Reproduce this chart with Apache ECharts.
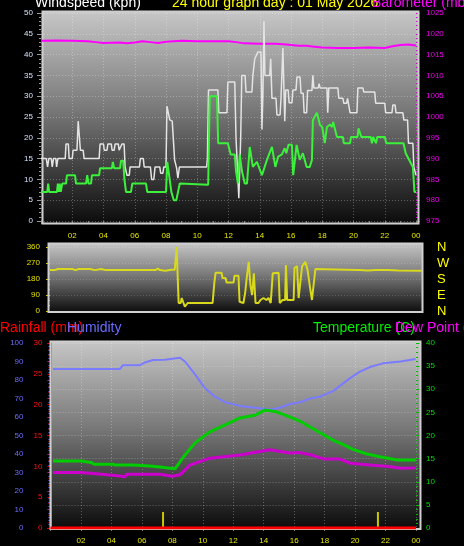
<!DOCTYPE html>
<html><head><meta charset="utf-8">
<script src="https://cdn.jsdelivr.net/npm/echarts/dist/echarts.min.js"></script>
<style>html,body{margin:0;padding:0;background:#000;overflow:hidden}#c{width:464px;height:546px}</style>
</head><body><div id="c"></div><script>
// ---- data (hour of day, value) ----
const hourTicks = ['02','04','06','08','10','12','14','16','18','20','22','00'];
const gust = [[0,15],[0.34,15],[0.42,13],[0.5,15],[0.66,15],[0.72,13],[0.8,15],[0.95,15],[1.0,13],[1.08,15],[1.55,15],[1.6,18.5],[1.75,18.5],[1.8,15],[2.0,15],[2.05,17],[2.3,17],[2.38,24],[2.46,24],[2.52,17],[2.7,17],[2.76,15],[3.72,15],[3.78,18.5],[4.0,18.5],[4.05,17],[4.22,17],[4.28,18.5],[4.5,18.5],[4.55,17],[4.68,17],[4.74,18.5],[4.95,18.5],[5.0,17],[5.12,17],[5.18,18.5],[5.32,18.5],[5.38,13],[5.5,11],[5.65,11],[5.7,13],[6.3,13],[6.36,15],[6.55,15],[6.6,13],[7.0,13],[7.08,10],[7.22,10],[7.3,13],[7.6,13],[7.66,11.5],[7.8,11.5],[7.86,13],[8.0,13],[8.06,27.6],[8.18,27.6],[8.24,24.3],[8.4,24],[8.55,14.7],[8.68,12.7],[8.76,10.3],[8.86,13],[10.6,13],[10.65,15],[10.72,31.5],[11.32,31.5],[11.38,26],[11.9,26],[11.96,33.4],[12.4,33.4],[12.48,20],[12.66,5.5],[12.78,20],[12.85,35],[13.06,35],[13.12,31],[13.5,31],[13.56,35],[13.68,39],[13.88,40.6],[14.08,40.6],[14.14,22],[14.2,30],[14.27,48],[14.33,35],[14.64,35],[14.7,39],[14.78,29.5],[15.04,29.5],[15.1,25.5],[15.3,25.5],[15.36,29.5],[15.43,29.5],[15.48,41.6],[15.55,41.6],[15.6,24],[15.66,31.5],[15.82,31.5],[15.88,28.4],[16.06,28.4],[16.12,31.5],[16.32,31.5],[16.38,34.6],[16.58,34.6],[16.64,30.7],[16.78,30.7],[16.84,26],[17.0,26],[17.06,31.4],[17.34,31.4],[17.4,35],[17.46,32],[17.74,32],[17.8,33],[17.86,32],[18.3,32],[18.35,26],[18.42,32],[19.0,32],[19.06,29.5],[19.32,29.5],[19.38,28.3],[19.56,28.3],[19.62,29.5],[19.72,29.5],[19.78,26],[20.22,26],[20.28,32],[20.6,32],[20.66,31],[21.36,31],[21.42,28.3],[22.0,28.3],[22.06,26],[22.46,26],[22.52,27.9],[22.66,27.9],[22.72,26],[23.16,26],[23.22,24.3],[23.46,24.3],[23.52,18.7],[23.8,18.7],[23.86,13],[24,11]];
const avgWind = [[0,7],[0.4,7],[0.46,9],[0.52,7],[1.02,7],[1.08,9],[1.14,7],[1.2,9],[1.26,7],[1.36,9],[1.6,9],[1.66,11],[2.18,11],[2.24,9],[2.88,9],[2.96,11],[3.04,9],[3.2,9],[3.26,11],[3.72,11],[3.78,12.7],[4.54,12.7],[4.6,14.2],[4.68,12.7],[5.06,12.7],[5.12,14.5],[5.26,14.5],[5.34,10],[5.44,7],[5.76,7],[5.84,9],[6.72,9],[6.8,7],[8.0,7],[8.08,14.2],[8.2,11],[8.34,7],[8.5,5],[8.66,5],[8.88,9],[9.0,8.7],[10.7,8.7],[10.8,30],[11.26,30],[11.34,18.7],[11.96,18.7],[12.14,16],[12.4,16],[12.48,12],[12.6,9],[12.72,16],[12.86,12],[13.04,9],[13.18,9],[13.36,17.8],[13.56,13],[13.82,14.2],[14.14,11],[14.46,14.7],[14.78,17.8],[15.0,13],[15.18,15.5],[15.42,16],[15.6,17.5],[15.7,16.3],[15.84,18.3],[16.06,18.3],[16.14,11],[16.36,18.3],[16.56,14.7],[16.76,16.3],[17.0,13],[17.2,13],[17.34,14.7],[17.4,24.3],[17.66,26],[17.86,23],[18.0,22.6],[18.16,18.7],[18.3,22.6],[18.5,23.2],[18.62,22.6],[18.7,23.8],[18.94,20.2],[19.32,20.2],[19.38,18.7],[19.78,18.7],[19.84,20.2],[20.26,20.2],[20.32,22.3],[20.5,20.2],[21.1,20.2],[21.18,18.7],[21.26,20.2],[21.36,20.2],[21.44,18.7],[21.52,20.2],[22.0,20.2],[22.1,18.7],[23.2,18.7],[23.34,16.3],[23.8,13],[23.9,7],[24,7]];
const barometer = [[0,1018.3],[1,1018.4],[2,1018.3],[3,1018.2],[3.5,1018],[4,1017.8],[5,1017.9],[5.5,1017.7],[6,1017.9],[6.5,1018.2],[7,1018],[7.5,1017.8],[8,1018.1],[9,1018.3],[10,1018.2],[11,1018.2],[12,1018.2],[12.5,1018],[13,1017.7],[14,1017.6],[15,1017.6],[15.5,1017.5],[16,1017.3],[16.5,1017.1],[17,1017.1],[17.5,1016.9],[18,1016.7],[19,1016.6],[20,1016.6],[21,1016.7],[22,1016.6],[22.5,1017],[23,1017.3],[23.5,1017.4],[24,1017.2]];
const windDir = [[0,230],[0.3,230],[0.5,236],[1.2,236],[1.3,228],[1.45,236],[1.65,230],[1.85,236],[2.6,236],[2.9,230],[3.3,236],[3.6,230],[5.5,230],[5.6,224],[5.75,230],[6.8,230],[6.95,238],[7.1,230],[7.45,226],[7.8,232],[8.05,232],[8.17,360],[8.24,355],[8.3,45],[8.43,45],[8.5,73],[8.62,73],[8.7,24],[8.8,24],[8.88,45],[10.49,45],[10.6,157],[10.68,215],[11.07,215],[11.13,185],[11.33,185],[11.39,160],[11.84,160],[11.9,198],[12.16,198],[12.23,52],[12.48,45],[12.6,109],[12.7,193],[12.82,277],[12.93,146],[13.04,90],[13.15,212],[13.26,45],[13.45,45],[13.58,62],[13.77,73],[13.96,62],[14.1,73],[14.24,45],[14.37,212],[14.75,215],[14.82,45],[15.0,62],[15.17,62],[15.22,259],[15.3,62],[15.72,62],[15.77,242],[15.94,253],[16.04,73],[16.26,250],[16.47,277],[16.62,230],[16.8,118],[16.9,62],[17.0,62],[17.12,236],[17.24,230],[19.8,230],[19.9,225],[20.0,230],[20.5,228],[21.0,230],[21.8,230],[21.9,226],[22.5,228],[24,226]];
const humidity = [[0.16,86],[4.56,86],[4.76,88],[5.88,88],[6.2,89.5],[6.73,90.8],[7.52,91],[8.5,92],[8.83,90],[9.49,83],[10.1,76],[10.8,71],[11.46,68],[12.44,66],[13.43,65],[14.41,64],[15.07,65],[15.73,67],[16.38,68],[17.04,70],[17.7,71],[18.55,74],[19.67,81],[20.32,84.5],[20.97,87],[21.83,89],[22.98,90],[23.97,91.3]];
const temperature = [[0.16,14.5],[2.07,14.5],[2.2,14.1],[2.72,14.1],[2.86,13.8],[4.1,13.8],[4.24,13.6],[5.42,13.6],[5.55,13.4],[6.53,13.4],[7.19,13.2],[8.17,12.8],[8.83,15.8],[9.49,18.4],[10.47,20.8],[11.46,22.3],[12.44,23.8],[13.43,24.4],[14.08,25.5],[14.74,25.2],[15.4,24.4],[16.38,23.1],[16.7,22.5],[17.7,20.6],[18.55,19],[19.2,18.1],[19.86,17],[20.78,16],[21.64,15.4],[22.76,14.7],[24,14.7]];
const dewPoint = [[0.16,12],[2.0,12],[2.1,11.7],[3.2,11.7],[3.3,11.3],[4.4,11.3],[4.5,11.1],[4.9,11.1],[5.0,11.6],[7.2,11.6],[8.0,11.2],[8.5,11.5],[9.15,13.6],[10.47,15.1],[12.44,15.8],[14.4,16.9],[15.7,16.2],[16.38,16.3],[17.0,15.9],[18.0,14.9],[19.0,14.9],[19.7,14],[21.0,13.6],[22.2,13.3],[23.0,12.9],[24,13]];
const rainfall = [[0,0],[24,0]];
const rainRate = [[7.39,2.6],[21.5,2.6]];
const compass = {0:'N',90:'E',180:'S',270:'W',360:'N'};

const chart = echarts.init(document.getElementById('c'), null, {renderer:'canvas'});
const bgGrad = () => new echarts.graphic.LinearGradient(0,0,0,1,[
  {offset:0,color:'#c6c6c6'},{offset:0.45,color:'#7a7a7a'},{offset:1,color:'#0a0a0a'}]);
const fmtHour = v => v === 0 ? '' : hourTicks[v/2 - 1];
const plain = v => String(v);
const dotted = {show:true, lineStyle:{color:'rgba(255,255,255,0.28)', type:[1,2], width:1}};
const FONT = 'Liberation Sans, Arial, sans-serif';

const xBase = (gi, labelShow, margin, split) => ({
  type:'value', gridIndex:gi, min:0, max:24, interval:2,
  axisLine:{show:false},
  axisTick:{show:labelShow, length:3, lineStyle:{color:'#777'}},
  minorTick:{show:labelShow, splitNumber:2, length:2, lineStyle:{color:'#777'}},
  axisLabel:{show:labelShow, formatter:fmtHour, color:'#e6e600', fontSize:8, fontFamily:FONT, margin:margin},
  splitLine: split ? dotted : {show:false}
});

const option = {
  backgroundColor:'#000',
  animation:false,
  grid:[
    {left:41, right:48, top:13, height:208},
    {left:50, right:42, top:247, height:64},
    {left:50.5, right:48, top:343, height:185}
  ],
  xAxis:[ xBase(0,true,11,true), xBase(1,false,0,false), xBase(2,true,9,true) ],
  yAxis:[
    {type:'value', gridIndex:0, min:0, max:50, interval:5,
     axisLine:{show:false}, axisTick:{show:true,length:4,lineStyle:{color:'#999'}},
     minorTick:{show:true,splitNumber:5,length:2,lineStyle:{color:'#999'}},
     axisLabel:{color:'#d4e2ff', fontSize:8, fontFamily:FONT, margin:8, formatter:plain}, splitLine:dotted},
    {type:'value', gridIndex:0, position:'right', min:975, max:1025, interval:5,
     axisLine:{show:false}, axisTick:{show:true,length:4,lineStyle:{color:'#d000d0'}},
     minorTick:{show:true,splitNumber:5,length:2,lineStyle:{color:'#d000d0'}},
     axisLabel:{color:'#ee00ee', fontSize:8, fontFamily:FONT, margin:10, formatter:plain}, splitLine:{show:false}},
    {type:'value', gridIndex:1, min:0, max:360, interval:90,
     axisLine:{show:false}, axisTick:{show:true,length:4,lineStyle:{color:'#c8c800'}},
     minorTick:{show:true,splitNumber:3,length:2,lineStyle:{color:'#c8c800'}},
     axisLabel:{color:'#e0e000', fontSize:8, fontFamily:FONT, margin:10, formatter:plain},
     splitLine:{show:true,lineStyle:{color:'rgba(255,255,255,0.18)',type:[1,2]}}},
    {type:'value', gridIndex:1, position:'right', min:0, max:360, interval:90,
     axisLine:{show:false}, axisTick:{show:false}, splitLine:{show:false},
     axisLabel:{color:'#ffff00', fontSize:13, fontFamily:FONT, margin:15, formatter:v=>compass[v]}},
    {type:'value', gridIndex:2, position:'left', offset:20, min:0, max:100, interval:10,
     axisLine:{show:true,lineStyle:{color:'#5a5aff',width:2}},
     axisTick:{show:true,length:3,lineStyle:{color:'#5a5aff'}},
     minorTick:{show:true,splitNumber:5,length:2,lineStyle:{color:'#5a5aff'}},
     axisLabel:{color:'#6b6bff', fontSize:8, fontFamily:FONT, margin:7, formatter:plain}, splitLine:{show:false}},
    {type:'value', gridIndex:2, position:'left', offset:0, min:0, max:30, interval:5,
     axisLine:{show:false}, axisTick:{show:true,length:3,lineStyle:{color:'#e00000'}},
     minorTick:{show:true,splitNumber:5,length:2,lineStyle:{color:'#e00000'}},
     axisLabel:{color:'#ff1010', fontSize:8, fontFamily:FONT, margin:8, formatter:plain}, splitLine:{show:false}},
    {type:'value', gridIndex:2, position:'right', min:0, max:40, interval:5,
     axisLine:{show:false}, axisTick:{show:true,length:4,lineStyle:{color:'#00c000'}},
     minorTick:{show:true,splitNumber:5,length:2,lineStyle:{color:'#00c000'}},
     axisLabel:{color:'#00dd00', fontSize:8, fontFamily:FONT, margin:10, formatter:plain}, splitLine:dotted}
  ],
  series:[
    {name:'Barometer', type:'line', xAxisIndex:0, yAxisIndex:1, data:barometer, showSymbol:false, lineStyle:{color:'#ff00ff',width:2}},
    {name:'Gust', type:'line', xAxisIndex:0, yAxisIndex:0, data:gust, showSymbol:false, lineStyle:{color:'#e4e4e4',width:1.5}},
    {name:'Average', type:'line', xAxisIndex:0, yAxisIndex:0, data:avgWind, showSymbol:false, lineStyle:{color:'#3cf03c',width:2}},
    {name:'Direction', type:'line', xAxisIndex:1, yAxisIndex:2, data:windDir, showSymbol:false, lineStyle:{color:'#d8d81c',width:2}},
    {name:'Humidity', type:'line', xAxisIndex:2, yAxisIndex:4, data:humidity, showSymbol:false, lineStyle:{color:'#7b7bff',width:2}},
    {name:'Temperature', type:'line', xAxisIndex:2, yAxisIndex:6, data:temperature, showSymbol:false, lineStyle:{color:'#00cc00',width:3}},
    {name:'Dew Point', type:'line', xAxisIndex:2, yAxisIndex:6, data:dewPoint, showSymbol:false, lineStyle:{color:'#cc00cc',width:3}},
    {name:'Rain rate', type:'bar', xAxisIndex:2, yAxisIndex:5, data:rainRate, barWidth:2, itemStyle:{color:'#c8c800'}},
    {name:'Rainfall', type:'line', xAxisIndex:2, yAxisIndex:5, data:rainfall, showSymbol:false, lineStyle:{color:'#ff0000',width:3}}
  ],
  graphic:[
    {type:'rect', z:-10, shape:{x:42,y:12,width:377,height:213}, style:{fill:bgGrad()}},
    {type:'rect', z:-10, shape:{x:48,y:243,width:375,height:70}, style:{fill:bgGrad()}},
    {type:'rect', z:-10, shape:{x:50,y:341,width:371,height:189}, style:{fill:bgGrad()}},
    {type:'rect', z:1, shape:{x:42.5,y:11.5,width:376,height:212}, style:{fill:null,stroke:'#cfcfcf',lineWidth:2}},
    {type:'rect', z:1, shape:{x:48.5,y:243.5,width:374,height:68.5}, style:{fill:null,stroke:'#cfcfcf',lineWidth:2}},
    {type:'rect', z:1, shape:{x:50.5,y:341.5,width:370,height:187.5}, style:{fill:null,stroke:'#cfcfcf',lineWidth:2}},
    {type:'text', z:10, left:35, top:-4, style:{text:'Windspeed (kph)', fill:'#ffffff', font:'14px '+FONT}},
    {type:'text', z:10, left:172, top:-4, style:{text:'24 hour graph day : 01 May 2026', fill:'#ffff00', font:'14px '+FONT}},
    {type:'text', z:10, left:372, top:-4, style:{text:'Barometer (mb)', fill:'#ff00ff', font:'14px '+FONT}},
    {type:'text', z:10, left:0, top:321, style:{text:'Rainfall (mm)', fill:'#ff0000', font:'14px '+FONT}},
    {type:'text', z:11, left:67, top:321, style:{text:'Humidity', fill:'#6a6aff', font:'14px '+FONT}},
    {type:'text', z:10, left:313, top:321, style:{text:'Temperature (C)', fill:'#00ee00', font:'14px '+FONT}},
    {type:'text', z:11, left:395, top:321, style:{text:'Dew Point (C)', fill:'#ff00ff', font:'14px '+FONT}}
  ]
};
chart.setOption(option);
</script></body></html>
